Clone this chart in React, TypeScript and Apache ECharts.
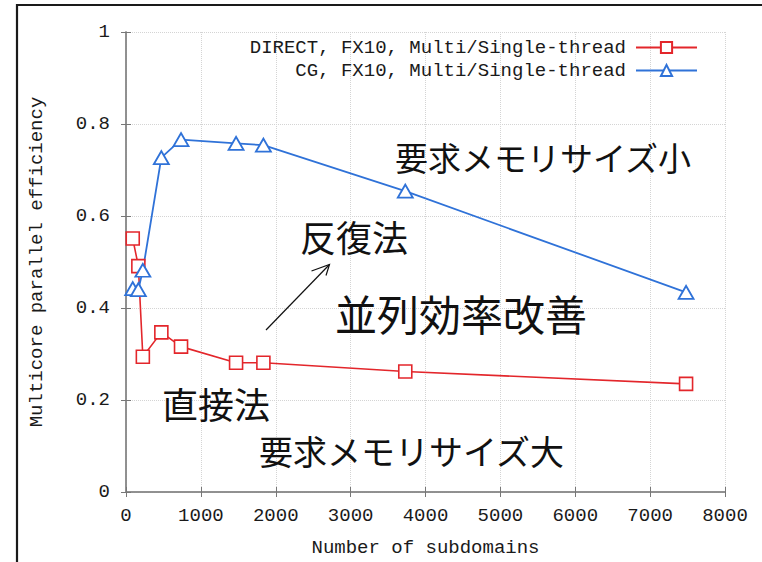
import React, { useEffect, useRef } from "react";
import * as echarts from "echarts";

// Number of subdomains at each measured point
const subdomains = [90, 165, 225, 472, 735, 1470, 1835, 3730, 7480];
// Multicore / single-thread parallel efficiency
const directEfficiency = [0.551, 0.491, 0.294, 0.347, 0.316, 0.281, 0.281, 0.262, 0.235];
const cgEfficiency = [0.442, 0.44, 0.482, 0.727, 0.766, 0.758, 0.754, 0.654, 0.434];

const seriesNames = [
  "DIRECT, FX10, Multi/Single-thread",
  "CG, FX10, Multi/Single-thread",
];

const xTicks = { min: 0, max: 8000, interval: 1000 };
const yTicks = { min: 0, max: 1, interval: 0.2 };

const RED = "#e3262b";
const BLUE = "#2f72d8";
const MONO = "'Liberation Mono', 'DejaVu Sans Mono', monospace";
const CJK = "'Noto Sans CJK JP', 'Noto Sans', sans-serif";

const toPairs = (xs: number[], ys: number[]) => xs.map((x, i) => [x, ys[i]]);

export default function App() {
  const ref = useRef<HTMLDivElement>(null);

  useEffect(() => {
    if (!ref.current) return;
    const chart = echarts.init(ref.current, null, { renderer: "svg" });

    const axisLine = { show: true, lineStyle: { color: "#8a8a8a", width: 1.5 } };
    const splitLine = { show: true, lineStyle: { color: "#d4d4d4", type: "dotted" as const, width: 1 } };
    const tick = { show: true, inside: true, length: 5, lineStyle: { color: "#777" } };
    const labelText = { fontFamily: MONO, fontSize: 19, color: "#1a1a1a" };

    const cjkText = (text: string, x: number, y: number, size: number) => ({
      type: "text",
      x,
      y,
      style: { text, fontFamily: CJK, fontSize: size, fill: "#111", textVerticalAlign: "middle" },
      z: 10,
    });

    const frameLine = (x1: number, y1: number, x2: number, y2: number) => ({
      type: "line",
      shape: { x1, y1, x2, y2 },
      style: { stroke: "#1a1a1a", lineWidth: 2.2 },
      z: 20,
    });

    chart.setOption({
      animation: false,
      backgroundColor: "#fff",
      grid: { left: 126, right: 37, top: 32, bottom: 69, containLabel: false },
      legend: {
        orient: "vertical",
        right: 59,
        top: 33,
        align: "right",
        itemWidth: 61,
        itemHeight: 14,
        itemGap: 4,
        textStyle: { ...labelText, padding: [0, 5, 0, 0] },
        data: seriesNames,
      },
      xAxis: [
        {
          type: "value",
          ...xTicks,
          name: "Number of subdomains",
          nameLocation: "middle",
          nameGap: 46,
          nameTextStyle: labelText,
          axisLine,
          axisTick: tick,
          splitLine,
          axisLabel: { ...labelText, margin: 14, formatter: (v: number) => String(v) },
        },
        {
          type: "value",
          ...xTicks,
          position: "top",
          axisLine,
          axisTick: tick,
          splitLine: { show: false },
          axisLabel: { show: false },
        },
      ],
      yAxis: [
        {
          type: "value",
          ...yTicks,
          name: "Multicore parallel efficiency",
          nameLocation: "middle",
          nameGap: 80,
          nameTextStyle: labelText,
          axisLine,
          axisTick: tick,
          splitLine,
          axisLabel: {
            ...labelText,
            margin: 16,
            formatter: (v: number) => String(Math.round(v * 10) / 10),
          },
        },
        {
          type: "value",
          ...yTicks,
          position: "right",
          axisLine,
          axisTick: tick,
          splitLine: { show: false },
          axisLabel: { show: false },
        },
      ],
      series: [
        {
          name: seriesNames[0],
          type: "line",
          data: toPairs(subdomains, directEfficiency),
          symbol: "rect",
          symbolSize: 13,
          lineStyle: { color: RED, width: 1.6 },
          itemStyle: { color: "#fff", borderColor: RED, borderWidth: 1.6 },
        },
        {
          name: seriesNames[1],
          type: "line",
          data: toPairs(subdomains, cgEfficiency),
          symbol: "triangle",
          symbolSize: [15, 13],
          lineStyle: { color: BLUE, width: 1.8 },
          itemStyle: { color: "#fff", borderColor: BLUE, borderWidth: 1.8 },
        },
      ],
      graphic: [
        // outer frame around the figure (right and bottom run off the page)
        frameLine(17, 5, 762, 5),
        frameLine(17, 4, 17, 562),
        cjkText("要求メモリサイズ小", 395, 157, 33),
        cjkText("反復法", 300, 236, 36),
        cjkText("並列効率改善", 335, 312, 42),
        cjkText("直接法", 162, 403, 36),
        cjkText("要求メモリサイズ大", 259, 450, 34),
        {
          type: "line",
          shape: { x1: 266, y1: 330, x2: 329, y2: 265 },
          style: { stroke: "#111", lineWidth: 1.2 },
          z: 10,
        },
        {
          type: "polyline",
          shape: { points: [[311.5, 271], [329.5, 264.5], [326, 275.5]] },
          style: { stroke: "#111", lineWidth: 1.2, fill: "none" },
          z: 10,
        },
      ],
    });

    return () => chart.dispose();
  }, []);

  return (
    <div
      ref={ref}
      style={{ position: "fixed", left: 0, top: 0, width: 762, height: 562 }}
    />
  );
}
